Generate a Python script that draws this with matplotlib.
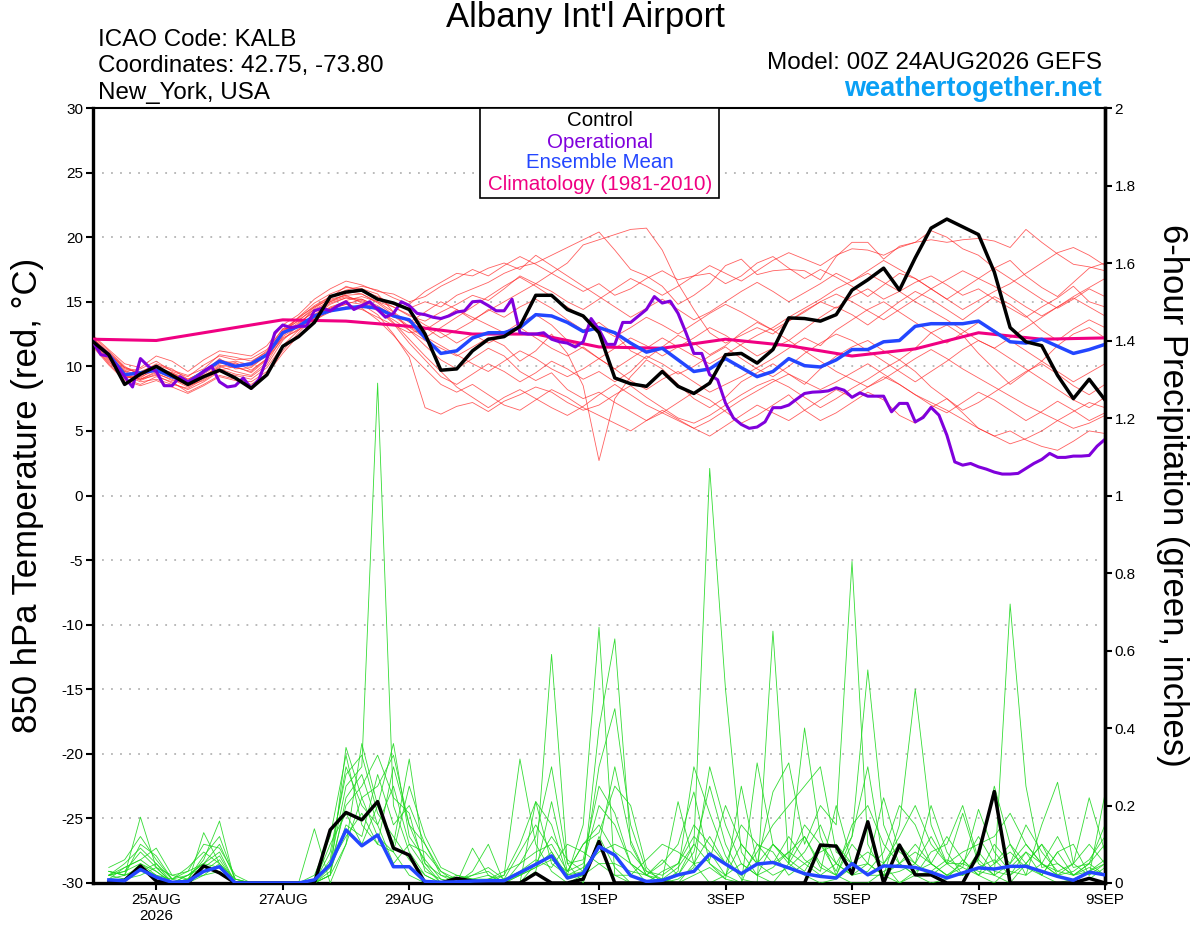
import matplotlib
matplotlib.use('Agg')
import matplotlib.pyplot as plt
import numpy as np
from matplotlib.patches import Rectangle

plt.rcParams['font.family'] = ['Liberation Sans', 'DejaVu Sans']

# ---- data (6-hourly from 00Z 24AUG, operational 3-hourly) ----
tick_days = [1, 3, 5, 8, 10, 12, 14, 16]
tick_labels = ['25AUG\n2026', '27AUG', '29AUG', '1SEP', '3SEP', '5SEP', '7SEP', '9SEP']

control_temp = [11.9, 10.9, 8.6, 9.4, 10.0, 9.3, 8.6, 9.2, 9.7, 9.1, 8.3, 9.35, 11.55, 12.3, 13.4, 15.4,
                15.75, 15.9, 15.2, 14.9, 14.4, 12.5, 9.7, 9.8, 11.2, 12.1, 12.3, 13.1, 15.5, 15.5, 14.4, 13.9,
                12.6, 9.1, 8.65, 8.45, 9.6, 8.45, 7.9, 8.7, 10.9, 11.0, 10.25, 11.3, 13.75, 13.7, 13.5, 14.0,
                15.9, 16.7, 17.6, 15.9, 18.4, 20.7, 21.4, 20.8, 20.2, 17.3, 13.0, 11.9, 11.6, 9.3, 7.5, 9.0, 7.4]

mean_temp = [11.9, 10.9, 9.35, 9.5, 9.7, 9.2, 8.75, 9.6, 10.4, 10.0, 10.2, 10.9, 12.6, 13.1, 13.9, 14.3,
             14.5, 14.65, 14.5, 13.9, 13.6, 12.2, 11.0, 11.2, 12.2, 12.6, 12.6, 13.0, 14.0, 13.9, 13.4, 12.7,
             13.0, 12.6, 11.8, 11.1, 11.4, 10.5, 9.6, 9.8, 10.6, 9.9, 9.2, 9.6, 10.6, 10.05, 9.95, 10.5,
             11.3, 11.3, 11.9, 12.0, 13.1, 13.3, 13.3, 13.3, 13.5, 12.7, 11.9, 11.8, 12.1, 11.55, 11.0, 11.3, 11.7]

oper_temp = [11.9, 10.9, 10.8, 10.0, 9.2, 8.4, 10.6, 10.0, 9.6, 8.5, 8.5, 9.2, 8.8, 9.1, 9.6, 10.0,
             8.8, 8.4, 8.5, 9.1, 8.3, 9.0, 10.6, 12.6, 13.2, 13.0, 13.1, 13.1, 14.3, 14.5, 14.3, 14.7,
             15.0, 14.4, 14.7, 15.0, 14.4, 13.8, 14.1, 15.0, 14.7, 14.1, 14.0, 13.8, 13.7, 13.9, 14.2, 14.3,
             15.0, 15.05, 14.7, 14.3, 14.3, 15.2, 12.6, 12.5, 12.5, 12.6, 12.1, 11.9, 11.8, 11.5, 11.9, 13.7,
             12.85, 11.7, 11.7, 13.4, 13.4, 13.9, 14.4, 15.4, 14.9, 15.05, 14.1, 12.6, 11.0, 11.0, 9.35, 8.96,
             7.15, 6.0, 5.5, 5.2, 5.3, 5.7, 6.8, 6.8, 7.0, 7.46, 7.9, 8.0, 8.03, 8.1, 8.34, 8.15,
             7.6, 7.95, 7.69, 7.69, 7.69, 6.48, 7.13, 7.13, 5.7, 6.04, 6.82, 6.22, 4.67, 2.6, 2.35, 2.48,
             2.22, 2.04, 1.81, 1.66, 1.66, 1.71, 2.1, 2.48, 2.79, 3.26, 2.95, 2.95, 3.05, 3.05, 3.1, 3.82,
             4.35]

clim_temp = [12.1, 12.0, 12.8, 13.6, 13.5, 13.1, 12.5, 12.5, 11.5, 11.4, 12.1, 11.6, 10.8, 11.35, 12.6, 12.1, 12.2]

temp_mem_01 = [12.2, 11.0, 9.8, 9.5, 10.2, 9.8, 9.0, 9.6, 10.5, 10.2, 10.0, 10.8,
               12.5, 13.4, 14.2, 15.0, 15.6, 15.9, 15.4, 14.8, 14.5,
               15.0, 14.6, 15.5, 16.0, 16.5, 17.2, 17.7, 18.0, 18.6, 19.2, 19.8, 20.4,
               19.0, 17.5, 17.0, 16.2, 14.8, 15.5, 16.4, 17.8, 18.3, 17.1, 17.4, 17.5, 17.4, 16.7, 18.5, 19.6,
               19.6, 18.3, 19.3, 19.6, 20.5, 20.0, 19.1, 18.6, 17.6, 18.2, 17.0, 16.1, 15.4, 16.5, 17.6, 18.0]
temp_mem_02 = [11.8, 10.6, 9.3, 8.8, 9.0, 8.6, 8.3, 9.0, 9.8, 9.4, 9.2, 10.1,
               12.0, 13.2, 14.5, 15.3, 16.2, 15.8, 15.2, 14.6, 13.9,
               13.5, 14.2, 14.8, 15.5, 15.1, 16.0, 17.0, 16.4, 17.2, 18.0, 19.4, 19.8,
               20.2, 20.6, 20.7, 19.0, 16.4, 14.4, 12.6, 11.8, 12.4, 13.0, 12.5, 13.5, 14.2, 15.0, 14.5, 15.4,
               16.0, 15.2, 15.8, 16.5, 17.0, 16.3, 15.5, 16.0, 15.2, 14.5, 13.8, 14.6, 15.3, 16.2, 15.0, 14.6]
temp_mem_03 = [12.0, 10.8, 9.5, 9.0, 9.6, 9.1, 8.5, 8.9, 9.7, 10.0, 9.5, 10.5,
               12.8, 13.5, 14.6, 15.2, 15.5, 14.9, 14.3, 13.6, 12.8,
               12.0, 11.4, 10.8, 11.5, 12.2, 11.6, 10.4, 11.2, 12.5, 11.0, 8.5, 2.7,
               7.5, 9.2, 10.5, 9.8, 8.6, 7.5, 6.8, 7.6, 8.8, 9.5, 10.2, 9.4, 8.6, 9.8, 10.8, 11.5,
               12.0, 11.2, 10.5, 11.4, 12.6, 13.2, 12.4, 11.0, 9.8, 8.6, 9.5, 10.4, 11.6, 12.5, 13.0, 12.2]
temp_mem_04 = [11.6, 10.2, 9.0, 8.6, 9.2, 8.8, 8.0, 8.6, 9.3, 9.0, 8.8, 9.6,
               11.2, 12.6, 13.8, 14.6, 15.0, 14.8, 14.0, 12.5, 10.7,
               6.8, 6.3, 6.9, 7.2, 6.5, 7.3, 7.8, 8.4, 8.0, 7.2, 6.6, 7.0,
               7.8, 8.5, 7.6, 6.8, 6.0, 5.6, 6.2, 7.0, 7.8, 8.5, 9.0, 8.4, 7.6, 6.8, 7.5, 8.3,
               9.0, 9.8, 10.5, 9.6, 8.4, 7.5, 6.6, 7.2, 8.0, 8.8, 9.6, 10.2, 9.4, 8.5, 7.8, 8.6]
temp_mem_05 = [12.3, 11.2, 10.0, 9.3, 9.8, 9.5, 8.8, 9.4, 10.2, 10.4, 10.1, 11.0,
               12.6, 13.8, 14.9, 15.6, 16.1, 16.0, 15.6, 14.2, 12.8,
               11.6, 10.5, 9.8, 10.6, 11.4, 10.8, 9.6, 8.9, 9.5, 8.2, 7.5, 8.0,
               7.2, 6.5, 5.8, 6.4, 7.2, 8.0, 7.4, 6.5, 5.6, 6.2, 7.0, 7.8, 6.6, 5.8, 6.4, 7.2,
               8.0, 7.4, 6.2, 5.6, 6.8, 7.5, 6.4, 5.2, 4.6, 5.0, 4.3, 3.8, 3.5, 4.2, 5.0, 4.8]
temp_mem_06 = [11.9, 10.9, 9.6, 9.8, 10.4, 9.6, 9.2, 10.1, 10.8, 10.5, 10.6, 11.3,
               12.9, 13.0, 14.0, 14.5, 14.8, 15.2, 14.6, 14.0, 13.6,
               13.0, 12.2, 12.8, 13.5, 14.4, 13.8, 14.6, 15.2, 14.5, 13.6, 12.8, 13.4,
               12.5, 11.2, 10.6, 11.5, 12.4, 11.8, 10.9, 11.6, 12.6, 13.4, 12.8, 12.0, 12.9, 13.8, 14.6, 14.0,
               13.2, 14.1, 15.0, 15.8, 15.2, 14.4, 13.6, 14.5, 15.4, 14.8, 13.9, 12.8, 12.0, 12.9, 13.6, 13.0]
temp_mem_07 = [12.4, 11.3, 10.2, 9.9, 10.8, 10.4, 9.6, 10.5, 11.2, 11.0, 10.8, 11.6,
               13.2, 14.0, 15.2, 16.0, 16.6, 16.3, 15.8, 15.6, 15.0,
               15.4, 16.2, 16.8, 17.5, 17.0, 17.8, 18.5, 17.9, 17.2, 16.5, 15.8, 16.4,
               15.5, 16.0, 16.8, 17.4, 16.7, 17.0, 17.2, 16.4, 17.0, 18.0, 18.5, 17.6, 16.8, 17.5, 16.9, 16.2,
               15.4, 16.3, 17.2, 16.8, 16.0, 15.2, 14.4, 15.1, 15.8, 16.4, 17.2, 18.0, 18.8, 19.2, 18.6, 17.8]
temp_mem_08 = [11.7, 10.4, 9.1, 9.3, 9.9, 9.2, 8.6, 9.5, 10.6, 9.8, 9.9, 10.9,
               12.2, 12.8, 13.6, 14.2, 14.6, 14.4, 13.8, 13.2, 12.6,
               12.8, 13.6, 14.4, 13.8, 13.2, 12.6, 13.4, 14.0, 13.2, 12.0, 11.4, 10.6,
               9.8, 8.9, 8.2, 9.0, 9.6, 8.8, 8.0, 8.6, 9.2, 9.9, 10.6, 11.4, 12.2, 11.6, 12.8, 13.6,
               14.4, 15.0, 14.2, 13.4, 12.6, 11.8, 12.6, 13.4, 12.8, 12.0, 11.2, 10.4, 9.6, 8.8, 9.5, 10.2]
temp_mem_09 = [12.0, 10.7, 9.4, 8.9, 9.4, 9.0, 8.4, 9.1, 10.0, 9.6, 9.3, 10.3,
               12.3, 13.1, 13.9, 14.8, 15.3, 15.0, 14.4, 13.3, 11.8,
               10.5, 9.2, 8.6, 9.4, 10.2, 9.6, 8.8, 9.5, 10.4, 9.8, 9.0, 9.6,
               8.8, 9.6, 10.8, 10.2, 9.4, 10.0, 10.8, 11.5, 10.6, 9.8, 9.2, 10.0, 11.0, 11.8, 12.5, 12.0,
               11.2, 10.4, 9.6, 8.8, 9.6, 10.4, 11.3, 12.0, 11.4, 10.6, 9.8, 9.0, 8.2, 7.4, 6.8, 7.6]
temp_mem_10 = [11.5, 10.1, 8.9, 8.5, 8.9, 8.4, 7.9, 8.5, 9.2, 8.9, 8.6, 9.4,
               11.0, 12.4, 13.5, 14.4, 14.8, 14.5, 13.6, 12.4, 11.0,
               9.8, 8.6, 8.0, 8.6, 7.8, 7.0, 6.6, 7.4, 8.2, 7.6, 6.8, 6.2,
               5.6, 5.0, 5.8, 6.6, 5.9, 5.2, 4.6, 5.4, 6.2, 7.0, 6.4, 5.8, 6.6, 7.4, 8.2, 7.6,
               8.4, 9.2, 8.6, 7.8, 7.0, 6.4, 7.2, 8.0, 7.4, 6.6, 5.8, 6.5, 7.3, 6.6, 5.8, 6.4]
temp_mem_11 = [12.1, 11.1, 9.9, 9.6, 10.1, 9.7, 9.3, 9.8, 10.9, 10.7, 10.4, 11.1,
               12.7, 13.8, 14.6, 15.4, 15.9, 16.2, 15.9, 15.3, 14.8,
               15.8, 16.5, 17.2, 17.0, 17.6, 18.0, 17.5, 18.6, 17.8, 17.0, 16.2, 15.4,
               14.6, 13.8, 14.5, 15.2, 14.4, 13.6, 14.2, 15.0, 15.8, 16.5, 15.8, 15.0, 15.7, 16.4, 17.2, 16.6,
               17.4, 18.2, 17.5, 16.8, 16.0, 15.2, 16.0, 16.8, 17.6, 16.8, 16.0, 15.2, 14.5, 15.2, 16.0, 15.4]
temp_mem_12 = [11.8, 10.5, 9.2, 9.0, 9.5, 8.9, 8.7, 9.3, 9.9, 10.3, 9.7, 10.6,
               12.1, 12.9, 13.7, 14.5, 15.1, 15.4, 15.0, 14.6, 14.0,
               13.2, 12.6, 11.8, 12.5, 11.8, 12.4, 13.0, 12.2, 11.4, 10.8, 11.5, 10.6,
               9.8, 10.6, 11.4, 12.2, 11.5, 10.8, 10.2, 10.9, 11.7, 12.4, 13.0, 13.8, 14.5, 15.2, 16.0, 16.6,
               17.2, 16.5, 15.8, 15.0, 14.3, 13.6, 12.8, 12.0, 11.4, 12.2, 13.0, 13.8, 14.6, 15.3, 14.6, 13.9]
temp_mem_13 = [12.2, 10.9, 9.7, 9.2, 9.7, 9.3, 8.6, 9.2, 10.1, 9.9, 9.6, 10.6,
               12.4, 13.3, 14.3, 15.0, 15.4, 15.1, 14.5, 13.4, 12.1,
               10.8, 9.6, 8.4, 7.6, 6.8, 7.6, 8.2, 7.5, 6.8, 6.2, 6.9, 7.8,
               8.6, 7.8, 7.0, 6.4, 5.8, 5.2, 5.8, 6.6, 7.4, 8.1, 8.8, 9.4, 8.8, 8.2, 8.8, 9.5,
               10.2, 9.4, 8.6, 7.8, 7.2, 6.6, 5.9, 5.2, 4.6, 4.0, 4.4, 5.0, 5.8, 6.5, 7.2, 6.8]
temp_mem_14 = [11.9, 10.8, 9.6, 9.1, 9.9, 9.4, 8.9, 9.7, 10.4, 10.0, 10.2, 11.0,
               12.6, 13.6, 14.4, 15.1, 15.5, 15.6, 15.0, 14.2, 13.4,
               14.2, 15.0, 14.4, 13.6, 14.3, 15.0, 15.7, 16.4, 15.8, 15.0, 14.4, 15.2,
               16.0, 16.8, 16.2, 15.5, 16.2, 17.0, 17.8, 17.2, 16.6, 17.4, 18.2, 18.8, 18.3, 17.8, 18.6, 19.1,
               19.0, 18.6, 19.2, 19.6, 19.8, 19.6, 19.8, 19.9, 19.7, 19.2, 20.6, 19.6, 18.7, 17.9, 17.7, 17.4]
temp_mem_15 = [12.1, 11.0, 9.9, 9.4, 9.9, 9.5, 9.0, 9.6, 10.3, 10.1, 10.3, 11.2,
               12.9, 13.7, 14.7, 15.4, 15.8, 15.6, 14.9, 14.0, 13.1,
               12.3, 11.6, 10.9, 10.2, 9.6, 10.4, 11.2, 10.6, 9.8, 9.2, 9.8, 10.6,
               11.4, 12.2, 11.6, 10.8, 11.5, 12.2, 13.0, 12.4, 11.6, 10.8, 11.4, 12.0, 11.2, 10.4, 9.6, 9.0,
               8.4, 9.0, 9.8, 10.6, 11.3, 10.6, 9.8, 9.1, 8.4, 7.7, 7.0, 6.4, 5.8, 5.2, 5.6, 6.2]
temp_mem_16 = [11.6, 10.3, 9.3, 9.0, 9.3, 8.7, 8.2, 8.8, 9.6, 9.3, 9.0, 9.9,
               11.6, 12.8, 14.0, 14.9, 15.3, 15.2, 14.7, 13.9, 13.0,
               12.2, 13.0, 13.8, 14.6, 15.4, 16.2, 16.9, 16.2, 15.4, 14.6, 13.8, 13.0,
               12.3, 13.0, 13.8, 13.2, 12.5, 13.3, 14.1, 14.8, 14.2, 13.5, 12.8, 13.5, 14.3, 15.0, 15.6, 15.0,
               14.3, 13.6, 14.4, 15.2, 16.0, 16.7, 17.4, 16.8, 16.2, 15.4, 14.6, 13.9, 14.6, 15.4, 16.1, 16.8]

# 6-hour precipitation (inches), valid 06Z 24AUG .. 00Z 9SEP
control_pcp = [0.003, 0.007, 0.044, 0.005, 0, 0, 0.044, 0.026, 0, 0, 0, 0, 0, 0, 0.137, 0.182,
               0.163, 0.21, 0.09, 0.072, 0, 0, 0.012, 0.005, 0, 0, 0, 0.025, 0, 0, 0.01, 0.107,
               0, 0, 0, 0, 0, 0, 0, 0, 0, 0, 0, 0, 0, 0.098, 0.095, 0.024,
               0.158, 0, 0.098, 0.021, 0.021, 0, 0, 0.076, 0.236, 0, 0, 0, 0, 0, 0.012, 0]
mean_pcp = [0.008, 0.006, 0.035, 0.015, 0.002, 0.004, 0.03, 0.042, 0, 0, 0, 0, 0, 0.008, 0.047, 0.137,
            0.096, 0.124, 0.042, 0.042, 0.004, 0.002, 0.003, 0.005, 0.006, 0.006, 0.027, 0.048, 0.07, 0.013, 0.025, 0.094,
            0.072, 0.019, 0.004, 0.007, 0.021, 0.03, 0.075, 0.049, 0.024, 0.049, 0.053, 0.039, 0.024, 0.017, 0.013, 0.05,
            0.021, 0.044, 0.043, 0.04, 0.028, 0.013, 0.026, 0.039, 0.036, 0.043, 0.043, 0.03, 0.017, 0.007, 0.028, 0.021]

pcp_mem_01 = [0.03, 0.02, 0.17, 0.04, 0, 0.02, 0.05, 0.08, 0, 0, 0, 0, 0, 0, 0.02, 0.35,
              0.22, 0.12, 0.08, 0.02, 0, 0, 0.01, 0, 0, 0, 0.02, 0.05, 0.59, 0.05, 0, 0.12,
              0.04, 0, 0, 0, 0.02, 0.1, 1.07, 0.5, 0.08, 0.02, 0, 0.05, 0.12, 0.04, 0.02, 0,
              0, 0.03, 0.05, 0.02, 0, 0.01, 0.06, 0.02, 0, 0.04, 0.08, 0.02, 0, 0.01, 0.03, 0.05]
pcp_mem_02 = [0.02, 0.05, 0.09, 0.05, 0, 0, 0.13, 0.05, 0, 0, 0, 0, 0, 0.14, 0, 0.1,
              0.36, 0.2, 0.1, 0.32, 0.05, 0, 0, 0.03, 0.1, 0, 0, 0.21, 0.15, 0.02, 0.15, 0.66,
              0.02, 0, 0, 0.01, 0.21, 0.05, 0, 0.02, 0, 0.31, 0.1, 0.05, 0.4, 0.12, 0.02, 0.12,
              0.3, 0.05, 0, 0.02, 0.08, 0.1, 0.2, 0.06, 0.02, 0, 0.05, 0.1, 0.02, 0, 0.01, 0.04]
pcp_mem_03 = [0.01, 0.04, 0.06, 0.09, 0.02, 0.01, 0.06, 0.16, 0, 0, 0, 0, 0, 0, 0.05, 0.25,
              0.3, 1.29, 0.2, 0.08, 0.02, 0, 0, 0, 0, 0.02, 0.32, 0.1, 0.03, 0, 0.02, 0.4,
              0.63, 0.1, 0.02, 0, 0.03, 0.3, 0.18, 0.07, 0.01, 0, 0.65, 0.05, 0.02, 0, 0.01, 0.04,
              0.05, 0.02, 0.15, 0.5, 0.15, 0.05, 0.02, 0.06, 0.25, 0.1, 0.05, 0.02, 0.08, 0.02, 0.05, 0.1]
pcp_mem_04 = [0.04, 0.06, 0.12, 0.06, 0.01, 0.03, 0.1, 0.09, 0.02, 0, 0, 0, 0, 0.02, 0.12, 0.33,
              0.15, 0.1, 0.3, 0.15, 0.05, 0.02, 0, 0.01, 0.02, 0, 0, 0.03, 0.21, 0.03, 0.1, 0.13,
              0.25, 0.2, 0.04, 0, 0, 0.02, 0.04, 0.01, 0.25, 0.05, 0.235, 0.31, 0.1, 0.2, 0.15, 0.83,
              0.1, 0.02, 0, 0.03, 0.05, 0.02, 0.04, 0.19, 0.08, 0.03, 0.02, 0.15, 0.26, 0.05, 0.02, 0.23]
pcp_mem_05 = [0.02, 0.01, 0.05, 0.03, 0, 0.02, 0.04, 0.07, 0, 0, 0, 0, 0, 0, 0.08, 0.28,
              0.33, 0.18, 0.12, 0.06, 0.02, 0, 0.02, 0.01, 0.01, 0.02, 0.1, 0.21, 0.05, 0.02, 0.03, 0.1,
              0.3, 0.11, 0.02, 0.05, 0.1, 0.235, 0.05, 0.01, 0, 0.1, 0.05, 0.08, 0.12, 0.05, 0.02, 0.1,
              0.05, 0.22, 0.08, 0.05, 0.12, 0.05, 0.18, 0.05, 0.02, 0.72, 0.25, 0.04, 0.05, 0.02, 0.04, 0.02]
pcp_mem_06 = [0.03, 0.02, 0.04, 0.02, 0.01, 0.04, 0.08, 0.05, 0, 0, 0, 0, 0, 0, 0.04, 0.2,
              0.25, 0.33, 0.22, 0.18, 0.03, 0.01, 0, 0.02, 0.03, 0, 0.05, 0.08, 0.1, 0.03, 0.05, 0.2,
              0.15, 0.05, 0, 0.03, 0.05, 0.12, 0.08, 0.02, 0.05, 0.02, 0.1, 0.06, 0.03, 0.1, 0.05, 0.12,
              0.55, 0.15, 0.05, 0.08, 0.05, 0.02, 0.05, 0.03, 0.02, 0.05, 0.1, 0.05, 0.02, 0.05, 0.22, 0.08]
pcp_mem_07 = [0.02, 0.03, 0.08, 0.04, 0, 0.01, 0.07, 0.12, 0.01, 0, 0, 0, 0, 0, 0.06, 0.3,
              0.2, 0.15, 0.25, 0.1, 0.04, 0, 0.01, 0.02, 0.04, 0.01, 0.08, 0.15, 0.08, 0.01, 0.02, 0.05,
              0.05, 0.03, 0.02, 0.06, 0.02, 0.08, 0.25, 0.1, 0.02, 0.05, 0.05, 0.12, 0.06, 0.03, 0.2, 0.05,
              0.02, 0.02, 0.05, 0.1, 0.05, 0.02, 0.02, 0.08, 0.03, 0.02, 0.08, 0.05, 0.02, 0.03, 0.06, 0.12]
pcp_mem_08 = [0.01, 0.02, 0.03, 0.05, 0.01, 0.02, 0.05, 0.04, 0, 0, 0, 0, 0, 0, 0.1, 0.18,
              0.1, 0.2, 0.36, 0.12, 0.06, 0.01, 0, 0, 0, 0, 0.02, 0.04, 0.08, 0.02, 0.04, 0.08,
              0.1, 0.08, 0.03, 0.01, 0, 0.05, 0.12, 0.05, 0.02, 0.08, 0.15, 0.2, 0.25, 0.3, 0.08, 0.05,
              0.02, 0.05, 0.1, 0.05, 0.02, 0.05, 0.08, 0.1, 0.12, 0.18, 0.1, 0.05, 0.03, 0.05, 0.1, 0.05]
pcp_mem_09 = [0.02, 0.04, 0.06, 0.03, 0, 0.01, 0.03, 0.06, 0, 0, 0, 0, 0, 0, 0.03, 0.15,
              0.12, 0.28, 0.15, 0.2, 0.1, 0.02, 0.01, 0, 0.01, 0.03, 0.05, 0.12, 0.3, 0.05, 0.06, 0.25,
              0.18, 0.05, 0.02, 0, 0.01, 0.04, 0.3, 0.15, 0.05, 0.02, 0.04, 0.08, 0.05, 0.02, 0.05, 0.02,
              0.03, 0.08, 0.2, 0.15, 0.05, 0.12, 0.06, 0.02, 0.05, 0.1, 0.02, 0.05, 0.12, 0.04, 0.05, 0.02]
pcp_mem_10 = [0.03, 0.02, 0.1, 0.07, 0.01, 0, 0.02, 0.03, 0, 0, 0, 0, 0, 0.01, 0.05, 0.12,
              0.18, 0.1, 0.08, 0.25, 0.12, 0.04, 0.02, 0.01, 0, 0.01, 0.03, 0.06, 0.04, 0.1, 0.08, 0.05,
              0.02, 0.02, 0.06, 0.1, 0.08, 0.05, 0.06, 0.2, 0.1, 0.05, 0.02, 0.04, 0.08, 0.15, 0.05, 0.02,
              0.05, 0.02, 0.03, 0.05, 0.2, 0.08, 0.02, 0.04, 0.06, 0.02, 0.05, 0.1, 0.05, 0.02, 0.03, 0.06]
pcp_mem_11 = [0, 0.01, 0.02, 0.04, 0.02, 0.03, 0.05, 0.1, 0.01, 0, 0, 0, 0, 0, 0.02, 0.22,
              0.28, 0.15, 0.05, 0.1, 0.08, 0.03, 0, 0.09, 0.02, 0, 0, 0.05, 0.12, 0.06, 0.03, 0.3,
              0.45, 0.15, 0.03, 0.02, 0.05, 0.15, 0.1, 0.05, 0.15, 0.1, 0.08, 0.02, 0.05, 0.08, 0.1, 0.05,
              0.08, 0.05, 0.12, 0.2, 0.1, 0.05, 0.05, 0.12, 0.05, 0.08, 0.04, 0.02, 0.08, 0.1, 0.02, 0.05]
pcp_mem_12 = [0.02, 0.03, 0.05, 0.02, 0, 0.01, 0.02, 0.05, 0.01, 0, 0, 0, 0, 0, 0.02, 0.1,
              0.22, 0.25, 0.33, 0.15, 0.1, 0.03, 0.01, 0, 0, 0.01, 0.02, 0.04, 0.06, 0.03, 0.1, 0.15,
              0.08, 0.05, 0.02, 0.01, 0.04, 0.1, 0.05, 0.02, 0.1, 0.05, 0.1, 0.06, 0.15, 0.1, 0.03, 0.15,
              0.2, 0.1, 0.05, 0.02, 0.03, 0.06, 0.04, 0.02, 0.1, 0.05, 0.15, 0.08, 0.03, 0.02, 0.05, 0.15]

temp_members = [temp_mem_01, temp_mem_02, temp_mem_03, temp_mem_04, temp_mem_05, temp_mem_06,
                temp_mem_07, temp_mem_08, temp_mem_09, temp_mem_10, temp_mem_11, temp_mem_12,
                temp_mem_13, temp_mem_14, temp_mem_15, temp_mem_16]
pcp_members = [pcp_mem_01, pcp_mem_02, pcp_mem_03, pcp_mem_04, pcp_mem_05, pcp_mem_06,
               pcp_mem_07, pcp_mem_08, pcp_mem_09, pcp_mem_10, pcp_mem_11, pcp_mem_12]

# time axes in days since 00Z 24AUG
t6 = np.arange(len(control_temp)) * 0.25
t3 = np.arange(len(oper_temp)) * 0.125
t_clim = np.arange(len(clim_temp)) * 1.0
t_pcp = t6[1:]

fig = plt.figure(figsize=(12, 9.27), dpi=100)
ax = fig.add_axes([93 / 1200, 1 - 883 / 927, 1012 / 1200, 775 / 927])
ax2 = ax.twinx()

# temperature ensemble
for m in temp_members:
    ax.plot(t6, m, color='#ff2a2a', lw=0.6, alpha=0.75, zorder=2)
ax.plot(t_clim, clim_temp, color='#f00082', lw=2.2, zorder=4)
ax.plot(t6, mean_temp, color='#2346ff', lw=2.5, zorder=5)
ax.plot(t3, oper_temp, color='#8000dc', lw=2.2, zorder=6)
ax.plot(t6, control_temp, color='black', lw=2.5, zorder=7)

# precipitation ensemble
for m in pcp_members:
    ax2.plot(t_pcp, m, color='#1ed81e', lw=0.6, alpha=0.9, zorder=2)
ax2.plot(t_pcp, control_pcp, color='black', lw=2.5, zorder=4)
ax2.plot(t_pcp, mean_pcp, color='#2346ff', lw=2.5, zorder=5)

ax.set_xlim(0, 16)
ax.set_ylim(-30, 30)
ax2.set_ylim(0, 2)
ax.set_yticks(np.arange(-30, 31, 5))
ax.set_yticklabels([str(v) for v in range(-30, 31, 5)])
ax2.set_yticks(np.arange(0, 2.01, 0.2))
ax2.set_yticklabels(['0', '0.2', '0.4', '0.6', '0.8', '1', '1.2', '1.4', '1.6', '1.8', '2'])
ax.set_xticks(tick_days)
ax.set_xticklabels(tick_labels)

ax.grid(axis='y', color='#b4b4b4', linestyle=(0, (1, 4)), lw=1.3)
ax.tick_params(axis='both', direction='out', length=5, width=1.5, labelsize=11, pad=2)
ax2.tick_params(axis='y', direction='out', length=5, width=1.5, labelsize=11, pad=2)

for s in ['left', 'right', 'bottom']:
    ax.spines[s].set_linewidth(2.4)
ax.spines['top'].set_linewidth(1.5)
for s in ['left', 'top', 'bottom']:
    ax2.spines[s].set_visible(False)
ax2.spines['right'].set_linewidth(2.4)

# header texts
fig.text(585 / 1200, 1 - 18 / 927, "Albany Int'l Airport", ha='center', va='center', fontsize=25)
fig.text(98 / 1200, 1 - 40 / 927, 'ICAO Code: KALB', ha='left', va='center', fontsize=17.4)
fig.text(98 / 1200, 1 - 66 / 927, 'Coordinates: 42.75, -73.80', ha='left', va='center', fontsize=17.4)
fig.text(98 / 1200, 1 - 93 / 927, 'New_York, USA', ha='left', va='center', fontsize=17.4)
fig.text(1102 / 1200, 1 - 63 / 927, 'Model: 00Z 24AUG2026 GEFS', ha='right', va='center', fontsize=17.5)
fig.text(1102 / 1200, 1 - 89 / 927, 'weathertogether.net', ha='right', va='center', fontsize=19.5,
         fontweight='bold', color='#0aa0f5')

# axis titles
fig.text(28 / 1200, 1 - 495 / 927, '850 hPa Temperature (red, °C)', rotation=90, ha='center', va='center',
         fontsize=25)
fig.text(1172 / 1200, 1 - 495 / 927, '6-hour Precipitation (green, inches)', rotation=270, ha='center',
         va='center', fontsize=25)

# legend box
box = Rectangle((480 / 1200, 1 - 198 / 927), 239 / 1200, 90 / 927, transform=fig.transFigure,
                facecolor='white', edgecolor='black', lw=1.2, zorder=10)
fig.add_artist(box)
leg_items = [('Control', 'black', 121), ('Operational', '#8000dc', 142),
             ('Ensemble Mean', '#2346ff', 163), ('Climatology (1981-2010)', '#f00082', 185)]
for label, col, ypix in leg_items:
    fig.text(600 / 1200, 1 - ypix / 927, label, color=col, ha='center', va='center', fontsize=14.8, zorder=11)

fig.savefig('out.png', dpi=100)
